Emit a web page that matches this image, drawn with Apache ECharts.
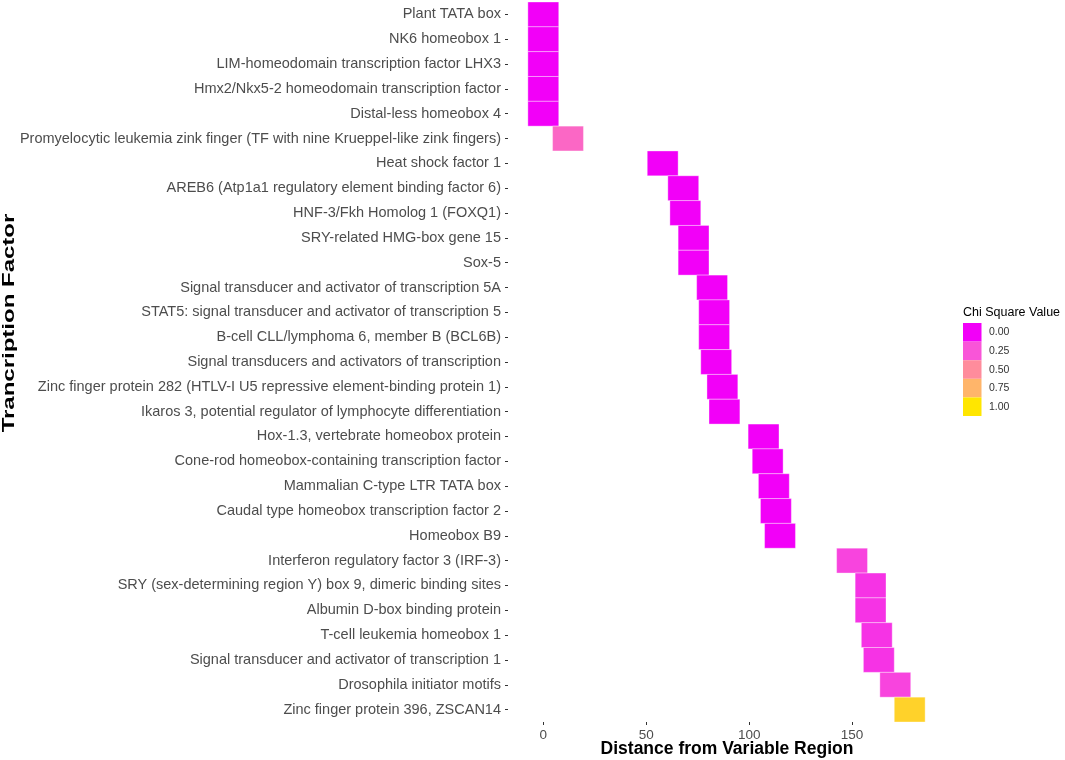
<!DOCTYPE html>
<html lang="en">
<head>
    <meta charset="UTF-8">
    <title>Transcription factor tiles</title>
    <style>
        html, body {margin:0; padding:0; background:#fff}
        #chart {width:1065px; height:760px}
    </style>
    <script src="https://cdn.jsdelivr.net/npm/echarts@6/dist/echarts.min.js"></script>
</head>
<body>
<div id="chart"></div>
<script>
    // transcription factors, top to bottom
    const factors = [
        'Plant TATA box',
        'NK6 homeobox 1',
        'LIM-homeodomain transcription factor LHX3',
        'Hmx2/Nkx5-2 homeodomain transcription factor',
        'Distal-less homeobox 4',
        'Promyelocytic leukemia zink finger (TF with nine Krueppel-like zink fingers)',
        'Heat shock factor 1',
        'AREB6 (Atp1a1 regulatory element binding factor 6)',
        'HNF-3/Fkh Homolog 1 (FOXQ1)',
        'SRY-related HMG-box gene 15',
        'Sox-5',
        'Signal transducer and activator of transcription 5A',
        'STAT5: signal transducer and activator of transcription 5',
        'B-cell CLL/lymphoma 6, member B (BCL6B)',
        'Signal transducers and activators of transcription',
        'Zinc finger protein 282 (HTLV-I U5 repressive element-binding protein 1)',
        'Ikaros 3, potential regulator of lymphocyte differentiation',
        'Hox-1.3, vertebrate homeobox protein',
        'Cone-rod homeobox-containing transcription factor',
        'Mammalian C-type LTR TATA box',
        'Caudal type homeobox transcription factor 2',
        'Homeobox B9',
        'Interferon regulatory factor 3 (IRF-3)',
        'SRY (sex-determining region Y) box 9, dimeric binding sites',
        'Albumin D-box binding protein',
        'T-cell leukemia homeobox 1',
        'Signal transducer and activator of transcription 1',
        'Drosophila initiator motifs',
        'Zinc finger protein 396, ZSCAN14'
    ]
    // distance from variable region (tile centre)
    const distance = [0, 0, 0, 0, 0, 12, 58, 68, 69, 73, 73, 82, 83, 83, 84, 87, 88,
        107, 109, 112, 113, 115, 150, 159, 159, 162, 163, 171, 178]
    // chi square value per factor
    const chiSquare = [0, 0, 0, 0, 0, 0.33, 0, 0, 0, 0, 0, 0, 0, 0, 0, 0, 0,
        0, 0, 0, 0, 0, 0.2, 0.15, 0.15, 0.15, 0.15, 0.2, 0.9]
    const tileWidth = 15
    const xTicks = [0, 50, 100, 150]
    const legendValues = [0, 0.25, 0.5, 0.75, 1]
    const legendLabels = ['0.00', '0.25', '0.50', '0.75', '1.00']
    const colorStops = ['#F200F8', '#F955D8', '#FF8C9C', '#FFB56A', '#FFE600']

    function colorAt(v) {
        // same piecewise-linear interpolation visualMap uses
        let p = v * (colorStops.length - 1)
        let i = Math.min(Math.floor(p), colorStops.length - 2)
        let t = p - i
        let a = echarts.color.parse(colorStops[i]), b = echarts.color.parse(colorStops[i + 1])
        return 'rgb(' + [0, 1, 2].map(k => Math.round(a[k] + (b[k] - a[k]) * t)).join(',') + ')'
    }

    let chart = echarts.init(document.getElementById('chart'))
    const font = 'Liberation Sans, Arial, sans-serif'

    let legendItems = [{
        type: 'text', x: 963, y: 313,
        style: {text: 'Chi Square Value', font: '12.5px ' + font, fill: '#000', verticalAlign: 'middle'}
    }]
    legendValues.forEach((v, i) => {
        legendItems.push({
            type: 'rect', shape: {x: 963, y: 323 + i * 18.6, width: 18.5, height: 18.6},
            style: {fill: colorAt(v)}
        })
        legendItems.push({
            type: 'text', x: 989, y: 332.5 + i * 18.6,
            style: {text: legendLabels[i], font: '10.5px ' + font, fill: '#333', verticalAlign: 'middle'}
        })
    })

    let option = {
        animation: false,
        backgroundColor: '#fff',
        grid: {left: 508, right: 120, top: 2, bottom: 38, containLabel: false, outerBoundsMode: 'none'},
        xAxis: {
            type: 'value', min: -17.15, max: 195.15,
            axisLine: {show: false, onZero: false},
            splitLine: {show: false},
            axisTick: {show: true, length: 3, customValues: xTicks, lineStyle: {color: '#333'}},
            axisLabel: {customValues: xTicks, margin: 6, fontFamily: font, fontSize: 13.5, color: '#4d4d4d'}
        },
        yAxis: {
            type: 'category', data: factors, inverse: true,
            axisLine: {show: false, onZero: false},
            splitLine: {show: false},
            axisTick: {show: true, length: 3, alignWithLabel: true, lineStyle: {color: '#333'}},
            axisLabel: {margin: 7, fontFamily: font, fontSize: 14.5, color: '#4d4d4d', interval: 0}
        },
        visualMap: {
            show: false, type: 'continuous', min: 0, max: 1, dimension: 2, seriesIndex: 0,
            inRange: {color: colorStops}
        },
        graphic: [{
            type: 'text', x: 10, y: 323, rotation: Math.PI / 2, scaleX: 1.5,
            style: {text: 'Trancription Factor', font: 'bold 16px ' + font, fill: '#000',
                align: 'center', verticalAlign: 'middle'}
        }, {
            type: 'text', x: 727, y: 749,
            style: {text: 'Distance from Variable Region', font: 'bold 17.5px ' + font, fill: '#000',
                align: 'center', verticalAlign: 'middle'}
        }].concat(legendItems),
        series: [{
            type: 'custom',
            data: factors.map((f, i) => [distance[i], i, chiSquare[i]]),
            encode: {x: 0, y: 1},
            renderItem: function (params, api) {
                let c = api.coord([api.value(0), api.value(1)])
                let s = api.size([tileWidth, 1])
                return {
                    type: 'rect',
                    shape: {x: c[0] - s[0] / 2, y: c[1] - s[1] / 2, width: s[0], height: s[1]},
                    style: Object.assign(api.style(), {stroke: 'rgba(255,255,255,0.45)', lineWidth: 0.8})
                }
            }
        }]
    }
    chart.setOption(option)
</script>
</body>
</html>
